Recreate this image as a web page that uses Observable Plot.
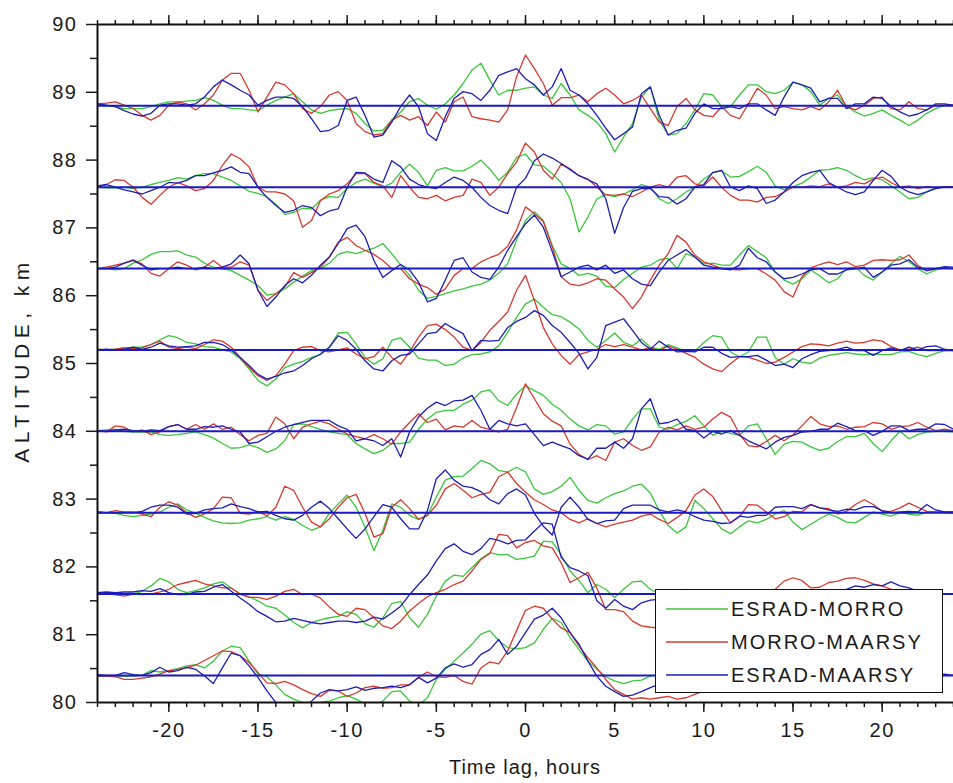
<!DOCTYPE html>
<html><head><meta charset="utf-8">
<script src="https://cdn.jsdelivr.net/npm/d3@7"></script>
<script src="https://cdn.jsdelivr.net/npm/@observablehq/plot@0.6"></script>
<style>
html,body{margin:0;padding:0;background:#fff;}
#wrap{position:relative;width:953px;height:783px;overflow:hidden;font-family:"Liberation Sans",Arial,sans-serif;color:#1a1a1a;background:#fff;}
#wrap svg text{letter-spacing:1.5px;}
.ylab{position:absolute;left:22px;top:360px;transform:translate(-50%,-50%) rotate(-90deg);font-size:21px;letter-spacing:5.5px;white-space:nowrap;}
.xlab{position:absolute;left:525px;top:767px;transform:translate(-50%,-50%);font-size:20px;letter-spacing:1px;white-space:nowrap;}
.legend{position:absolute;left:655px;top:589px;width:286px;height:102px;border:1.5px solid #111;background:#fff;}
.legend .row{position:absolute;left:10px;height:30px;display:flex;align-items:center;font-size:20px;letter-spacing:2px;white-space:nowrap;}
.legend .row svg{margin-right:3px;}
</style></head>
<body>
<div id="wrap"></div>
<script>
// ---- data (offsets in km from each baseline, read every 0.5 h from -24 to 24 h) ----
const lags = d3.range(-24, 24.001, 0.5);
const baselines = [88.8, 87.6, 86.4, 85.2, 84.0, 82.8, 81.6, 80.4];
const seriesNames = ["ESRAD-MORRO", "MORRO-MAARSY", "ESRAD-MAARSY"];
const seriesColors = ["#3cc63c", "#d63a2e", "#1e1eb4"];
const yMajor = [80, 81, 82, 83, 84, 85, 86, 87, 88, 89, 90];
const yMinor = [80.5, 81.5, 82.5, 83.5, 84.5, 85.5, 86.5, 87.5, 88.5, 89.5];
const xMajor = [-20, -15, -10, -5, 0, 5, 10, 15, 20];
const xMinor = d3.range(-24, 25, 1);

const em888 = [0.01,0,-0.01,-0.04,-0.04,-0.04,-0.01,0.03,0.06,0.06,0.07,0.08,0.12,0.08,0.01,-0.04,-0.04,-0.06,-0.07,0.01,0.08,0.13,0.18,0.06,-0.06,-0.11,-0.07,-0.05,-0.04,-0.11,-0.26,-0.37,-0.36,-0.21,-0.09,0.06,0.11,0.01,-0.05,0.03,0.16,0.33,0.53,0.63,0.38,0.16,0.23,0.23,0.26,
0.28,0.16,0.11,0.33,0.16,-0.06,-0.14,-0.24,-0.41,-0.68,-0.46,-0.26,0.13,0.28,-0.21,-0.43,-0.41,-0.26,-0.06,0.18,0.16,-0.01,-0.01,0.16,0.31,0.31,0.21,0.18,0.23,0.35,0.31,0.21,0.01,0.11,0.16,-0.01,-0.09,-0.15,-0.11,-0.06,-0.14,-0.21,-0.29,-0.21,-0.11,-0.04,0.01,0.01];
const mm888 = [0.03,0.04,0.06,0.01,-0.04,-0.14,-0.21,-0.14,0.01,0.06,0.03,-0.06,0.03,0.16,0.38,0.48,0.48,0.23,-0.09,0.13,0.35,0.31,0.18,-0.04,-0.11,-0.01,0.16,0.21,0.08,-0.26,-0.38,-0.43,-0.41,-0.21,-0.14,-0.21,-0.16,-0.29,-0.09,-0.24,0.06,0.13,-0.16,-0.19,-0.21,-0.24,-0.06,0.43,0.75,
0.55,0.33,0.01,0.12,0.12,0.16,0.06,0.18,0.26,0.16,0.03,0.08,0.16,-0.04,-0.24,-0.29,-0.01,0.11,-0.06,-0.14,-0.16,-0.01,-0.14,-0.19,0.03,0.26,0.16,-0.04,-0.01,-0.04,-0.06,-0.01,-0.06,0.06,0.23,-0.01,-0.06,0.01,0.11,0.13,-0.04,-0.06,0.06,-0.04,-0.06,0.01,0.01,0.01];
const ea888 = [0.03,0.01,-0.01,-0.07,-0.12,-0.15,-0.11,0.01,0.03,0.03,0.01,0.03,0.13,0.28,0.38,0.31,0.23,0.16,0.01,0.08,0.13,0.13,0.11,-0.01,-0.19,-0.38,-0.36,-0.29,0.08,0.13,-0.14,-0.46,-0.43,-0.24,-0.01,0.16,-0.01,-0.41,-0.51,-0.16,0.11,0.21,0.18,0.08,0.23,0.45,0.5,0.55,0.4,
0.31,0.16,0.28,0.55,0.23,0.16,0.03,-0.14,-0.33,-0.5,-0.41,-0.31,0.18,0.28,-0.14,-0.43,-0.36,-0.33,-0.11,0.03,-0.04,-0.04,-0.01,-0.04,0.03,0.03,-0.06,-0.14,0.13,0.35,0.31,0.26,0.06,0.11,0.11,-0.04,0.03,0.03,0.13,0.11,-0.01,-0.09,-0.15,-0.12,-0.06,0.03,0.03,0.01];

const em876 = [0,-0.01,-0.01,0,-0.02,0,0.04,0.07,0.1,0.14,0.12,0.17,0.2,0.2,0.15,0.1,0.02,-0.06,-0.09,-0.14,-0.25,-0.4,-0.37,-0.31,-0.32,-0.19,-0.14,-0.15,-0.02,0.07,0.12,0.06,0,0.06,0.22,0.34,0.22,0.02,0.25,0.29,0.24,0.24,0.31,0.4,0.27,0.1,0.22,0.44,0.49,
0.33,0.31,0.2,0.07,-0.17,-0.66,-0.44,-0.17,-0.11,-0.14,-0.1,-0.04,0.04,0,-0.17,-0.24,-0.17,-0.07,0,0.12,0.21,0.24,0.15,0.16,0.23,0.31,0.22,0.02,-0.04,0.01,0.06,0.15,0.25,0.26,0.29,0.25,0.17,0.11,0.14,0.11,0.02,-0.07,-0.17,-0.15,-0.07,-0.01,0.01,0.01];
const mm876 = [0,0.04,0.11,0.1,0,-0.15,-0.25,-0.12,0,0.07,0.02,-0.05,-0.02,0.1,0.32,0.49,0.42,0.3,0,-0.07,-0.07,-0.1,-0.2,-0.59,-0.49,-0.2,-0.1,-0.05,0.05,0.2,0.2,0.07,0.02,-0.15,0.17,0,-0.15,-0.17,-0.12,-0.2,-0.15,-0.12,0.12,0.07,-0.12,0,0.2,0.37,0.65,
0.52,0.25,0.12,0.34,0.27,0.17,0.12,0,-0.11,-0.12,-0.1,-0.14,-0.07,0,0.04,0,0.15,0.17,0.05,0.02,0.15,0,-0.12,-0.19,-0.19,-0.22,-0.15,-0.14,-0.07,0,0,0.02,0.01,0.05,0,0.02,0.07,0.05,0.12,0.15,0.07,0,0.02,-0.02,0.01,-0.01,0.01,0];
const ea876 = [0.02,0.04,0,-0.04,-0.07,-0.1,-0.05,0,0.07,0.06,0.1,0.17,0.17,0.21,0.25,0.3,0.22,0.2,0,-0.15,-0.27,-0.37,-0.34,-0.27,-0.3,-0.42,-0.35,-0.32,0,0.22,0.21,0.12,0.07,0.39,0.3,0.12,0.04,0,-0.02,0.07,0.15,0.1,0,-0.15,-0.27,-0.34,-0.39,0,0.13,
0.39,0.49,0.43,0.35,0.26,0.17,0.11,0.05,-0.17,-0.68,-0.3,-0.06,-0.02,-0.02,-0.14,-0.15,-0.25,-0.17,0,0.04,0.22,0.25,0,-0.05,0.02,-0.02,-0.24,-0.19,-0.07,0.07,0.17,0.22,0.25,0.07,0,-0.07,-0.11,-0.07,0.1,0.25,0.16,0,-0.07,-0.11,-0.07,-0.02,0,0];

const em864 = [0,0,-0.02,0,0.08,0.13,0.21,0.25,0.25,0.26,0.2,0.17,0.08,0.02,0,-0.03,-0.1,-0.17,-0.25,-0.39,-0.37,-0.3,-0.2,-0.11,-0.03,0,0.08,0.21,0.25,0.22,0.26,0.3,0.37,0.22,0.05,-0.1,-0.32,-0.44,-0.41,-0.37,-0.33,-0.3,-0.26,-0.23,-0.17,-0.07,0.07,0.42,0.71,
0.84,0.71,0.34,0.07,0,-0.1,-0.07,-0.11,-0.26,-0.28,-0.16,-0.07,0.02,0.05,0.13,0.15,0,0.22,0.17,0.07,0.08,0.05,0.05,0.2,0.34,0.25,0.16,-0.05,-0.17,-0.23,-0.15,-0.02,-0.11,-0.21,-0.15,0,0.02,-0.1,-0.17,-0.05,0.07,0.18,0.1,0,-0.08,-0.02,0.01,0];
const mm864 = [0,0.02,0.05,0.08,0.13,0.07,-0.07,-0.11,0,0.1,0.05,-0.02,0.02,0.12,0.02,0.02,0.1,0.05,-0.32,-0.47,-0.37,-0.27,-0.06,-0.13,-0.06,0.02,0.17,0.39,0.46,0.34,0.27,0.21,0.12,0,0,-0.15,-0.23,-0.28,-0.38,-0.3,-0.1,0,0,0.1,0.16,0.21,0.33,0.57,0.91,
0.81,0.69,0.32,-0.12,-0.23,-0.25,-0.21,-0.15,-0.17,-0.3,-0.42,-0.59,-0.42,-0.17,0.05,0.22,0.49,0.39,0.2,0.1,0.05,0,-0.01,-0.02,0,0,-0.08,-0.17,-0.34,-0.42,-0.12,0.01,0.06,0.1,0.06,0.1,0.03,0.05,0.12,0.13,0.12,0.13,0.2,0.05,-0.03,0,0.01,0];
const ea864 = [0,0,0.02,0.08,0.12,0.05,-0.02,0,0,0.02,0,0,0.02,0,0.02,0.07,0.2,0.07,-0.32,-0.56,-0.42,-0.25,-0.15,-0.21,-0.1,0.05,0.17,0.37,0.59,0.64,0.47,0.12,-0.13,-0.03,0.06,-0.02,-0.2,-0.49,-0.44,-0.17,0.12,0.16,-0.05,-0.13,-0.16,0.02,0.27,0.47,0.66,
0.79,0.61,0.25,-0.12,-0.05,0.02,0.05,-0.02,0.05,-0.07,-0.02,-0.15,-0.23,-0.25,-0.05,0.12,0.2,0.28,0.17,0.05,0.02,0,-0.02,0.05,0.3,0.16,0.1,-0.05,-0.15,-0.13,-0.08,-0.02,0,-0.08,-0.08,-0.02,0,0.02,-0.13,-0.05,0.05,0.07,0.13,0.02,-0.03,0,0.03,0.02];

const em852 = [0.01,0,0.01,0.03,0.04,0.04,0.08,0.15,0.21,0.18,0.11,0.09,0.05,0.04,0,-0.03,-0.13,-0.28,-0.45,-0.53,-0.43,-0.26,-0.21,-0.17,-0.11,-0.07,0.04,0.25,0.26,0.09,-0.11,-0.21,-0.13,0.14,0.18,0.04,-0.12,-0.15,-0.15,-0.23,-0.21,-0.12,-0.07,-0.06,-0.03,0.06,0.26,0.48,0.68,
0.75,0.63,0.52,0.49,0.41,0.31,0.14,0.04,0.14,0.25,0.11,0.06,0.16,0.04,0.01,0.08,0.03,-0.02,-0.02,0.11,0.21,0.19,-0.03,-0.1,-0.03,0.19,0.19,-0.11,-0.21,-0.13,-0.18,-0.2,-0.12,-0.08,-0.06,-0.04,-0.06,-0.07,-0.06,-0.07,-0.07,-0.03,-0.02,-0.07,-0.1,-0.05,-0.01,-0.01];
const mm852 = [0.01,0,0.01,0.03,0.02,0.03,0.08,0.13,0.04,0.02,0.04,0.02,0.08,0.15,0.13,0.04,-0.11,-0.26,-0.38,-0.45,-0.38,-0.21,-0.01,0.04,0.05,-0.01,-0.03,0,0.03,-0.06,-0.13,-0.1,0.04,-0.11,-0.21,-0.03,0.19,0.36,0.38,0.3,0.19,0.04,-0.01,0.11,0.29,0.42,0.56,0.88,1.1,
0.73,0.33,0.09,-0.08,-0.21,-0.07,-0.03,0.01,0.08,0.05,0.08,0.04,0,0.03,-0.01,0.06,0.01,-0.05,-0.11,-0.21,-0.28,-0.32,-0.2,-0.1,-0.11,-0.15,-0.2,-0.18,-0.11,-0.03,0.05,0.09,0.08,0.06,0.1,0.13,0.1,0.11,0.15,0.13,0.05,0,0.01,0.04,-0.01,-0.01,-0.01,-0.01];
const ea852 = [0,0.01,0,0.01,0.04,0.01,0.04,0.1,0.06,0.04,0.05,0.06,0.11,0.11,0.08,0,-0.11,-0.23,-0.36,-0.43,-0.39,-0.34,-0.31,-0.23,-0.13,-0.06,0.04,0.21,0.14,0.01,-0.16,-0.28,-0.31,-0.16,-0.08,-0.06,0.09,0.24,0.26,0.39,0.31,0.24,-0.01,0.14,0.13,0.14,0.33,0.42,0.48,
0.58,0.51,0.36,0.26,0.11,-0.05,-0.28,-0.11,0.36,0.41,0.46,0.29,0.11,0.01,0.13,0.04,-0.03,-0.02,-0.03,0.04,0.04,-0.05,-0.11,-0.1,-0.1,-0.08,-0.15,-0.23,-0.21,-0.26,-0.13,-0.07,-0.02,-0.01,0.01,0.04,-0.01,-0.01,-0.08,-0.01,0.03,-0.01,0.04,0,0.05,0.06,0.01,-0.01];

const em840 = [0.01,0.02,0.03,0,-0.01,-0.01,-0.01,-0.05,-0.06,-0.05,-0.03,-0.01,-0.05,-0.1,-0.18,-0.25,-0.24,-0.2,-0.24,-0.31,-0.26,-0.14,0.1,0.11,0.07,0.03,-0.01,-0.03,-0.05,-0.18,-0.26,-0.33,-0.28,-0.18,-0.18,-0.16,0.03,0.18,0.28,0.31,0.31,0.4,0.46,0.58,0.61,0.45,0.38,0.55,0.67,
0.6,0.53,0.4,0.31,0.18,0.08,0.02,0.1,0.08,-0.04,-0.01,0.18,0.33,0.33,0.06,0.03,0.1,0.15,0.23,0.08,-0.06,0,-0.03,-0.06,0.08,0.11,-0.11,-0.34,-0.19,-0.15,-0.16,-0.23,-0.28,-0.25,-0.15,-0.08,-0.08,-0.03,-0.18,-0.3,-0.14,0,-0.11,-0.05,-0.01,0,0,-0.01];
const mm840 = [0.01,-0.01,0.08,0.06,-0.01,0.02,-0.05,-0.01,0.07,0.1,0.03,0.1,0.03,0.11,0.03,0.06,-0.05,-0.14,-0.06,-0.03,0.21,0.11,-0.11,0.06,0.11,0.15,0.11,0.03,-0.04,-0.08,-0.11,-0.05,-0.11,-0.19,-0.01,0.13,0.26,0.13,0.18,0.02,0.08,0.06,0.16,0.06,0.03,-0.01,0.03,0.35,0.7,
0.48,0.26,0.15,0.08,-0.19,-0.34,-0.42,-0.36,-0.43,-0.16,-0.11,-0.21,-0.28,-0.23,-0.01,0.06,0.02,0.08,0.03,0.06,0.18,0.28,0.21,-0.04,-0.21,-0.23,-0.15,-0.06,-0.14,-0.05,0.08,0.22,0.11,0.07,0.08,0.03,0.06,0.07,0.13,0.11,0.03,0.07,0.08,0.13,0.06,0.01,0.03,0.01];
const ea840 = [0.01,0,0.02,0.03,0.01,0,0.02,0.01,0.07,0.1,0.03,0.03,0.07,0.06,0.08,0.03,-0.01,-0.18,-0.16,-0.08,0,0.06,0.1,0.13,0.16,0.16,0.16,0.08,0.03,-0.14,-0.11,-0.14,-0.21,-0.11,-0.38,-0.01,0.21,0.34,0.43,0.38,0.45,0.46,0.53,0.31,0.03,0.16,0.11,0.08,0.11,
-0.05,-0.21,-0.16,-0.21,-0.26,-0.36,-0.41,-0.25,-0.25,-0.16,-0.25,-0.11,0.33,0.48,0.11,0.13,0.18,0.03,0.01,-0.1,0,-0.04,0.01,-0.06,-0.14,-0.2,-0.26,-0.16,-0.09,-0.06,-0.01,0,0.03,0.03,0.12,0.07,0.01,0.01,-0.06,0,0.08,0.08,0.01,0.03,0.03,0.11,0.1,0.03];

const em828 = [0.01,0,-0.01,-0.04,-0.06,-0.04,-0.02,0.01,0.08,0.13,0.04,-0.01,-0.07,-0.12,-0.15,-0.16,-0.15,-0.11,-0.09,-0.06,-0.11,-0.06,-0.1,-0.19,-0.26,-0.21,-0.01,0.13,0.26,0.08,-0.21,-0.56,-0.26,0.13,0.08,-0.04,-0.1,-0.04,0.23,0.48,0.53,0.54,0.65,0.77,0.72,0.62,0.6,0.67,0.6,
0.35,0.27,0.31,0.39,0.52,0.33,0.18,0.14,0.22,0.28,0.32,0.39,0.42,0.29,0.03,-0.19,-0.3,-0.21,0.18,0.06,-0.09,-0.24,-0.31,-0.21,-0.12,-0.15,-0.1,-0.02,0.03,-0.14,-0.25,-0.17,-0.09,-0.02,-0.07,-0.14,-0.15,-0.07,0.01,-0.02,-0.05,0,-0.02,-0.04,0.01,0.01,0,-0.01];
const mm828 = [-0.01,0,0.03,0.01,0.01,-0.02,-0.06,0.08,0.16,0.11,0,-0.07,-0.02,0.06,0.23,0.22,-0.01,-0.02,0.02,-0.05,0.08,0.39,0.33,0.08,-0.14,-0.21,-0.09,0.08,0.22,0.27,-0.01,-0.36,-0.31,0.08,0.19,0.06,-0.1,-0.04,0.11,0.35,0.43,0.33,0.22,0.27,0.3,0.53,0.6,0.43,0.3,
0.19,0.12,0.04,0,-0.1,-0.15,-0.09,-0.16,-0.21,-0.17,-0.14,-0.11,-0.05,-0.02,-0.1,-0.16,-0.07,0.03,0.26,0.35,0.24,0.03,-0.15,-0.06,0.12,0.11,0.01,-0.09,-0.06,0.02,0.01,0.12,0.07,0.06,-0.02,0.02,0.12,0.19,0.12,0.02,0.02,0.07,0.14,0.08,0.02,0.01,0.01,0.01];
const ea828 = [0.01,0,0,0,0,0.02,0.08,0.11,0.11,0.08,-0.02,-0.01,0.04,0.06,0.07,0.13,0.09,0.06,0.01,0.02,-0.04,-0.09,-0.11,-0.04,0.08,0.17,0.06,-0.09,-0.24,-0.38,-0.24,-0.06,0.12,0.08,-0.09,-0.24,-0.24,0.03,0.5,0.63,0.48,0.39,0.37,0.31,0.19,0.13,0.28,0.35,0.26,
-0.01,-0.2,-0.33,0.08,0.23,0.08,-0.1,-0.16,-0.12,-0.11,0.06,0.11,0.11,0.11,0.04,0.01,0.04,0.01,-0.06,-0.11,-0.13,-0.16,-0.15,-0.05,-0.07,-0.04,-0.04,0.08,0.09,0.09,0.06,0.12,0.07,0.04,0.02,0.05,0.04,0.09,0.09,0.03,0,0.01,0.02,0.01,0.12,0.04,0.01,0.01];

const em816 = [0.02,0.01,-0.01,-0.01,0,0.04,0.12,0.23,0.18,0.07,0.02,0.05,0.09,0.15,0.18,0.09,0,-0.04,-0.1,-0.18,-0.21,-0.31,-0.42,-0.5,-0.42,-0.38,-0.35,-0.33,-0.26,-0.3,-0.44,-0.49,-0.35,-0.14,-0.11,-0.35,-0.49,-0.3,-0.03,0.19,0.28,0.26,0.39,0.52,0.61,0.58,0.58,0.51,0.53,
0.56,0.78,0.77,0.58,0.34,0.2,0.02,0.14,0.07,-0.05,0.07,0.18,0.19,0.07,0,-0.03,0.02,0.07,0.04,0,-0.05,-0.03,0.02,0.04,0,-0.04,-0.08,-0.03,0.02,0.04,0,-0.04,-0.03,0.02,0.03,0,-0.03,-0.01,0.02,0.03,0,-0.01,0,0.02,0,0,0,0];
const mm816 = [0.02,0,-0.01,-0.03,0,-0.01,0,0.03,0.07,0.14,0.17,0.2,0.15,0.12,0.09,0.09,0,-0.05,-0.05,-0.08,-0.03,0.04,0.07,-0.01,0,-0.06,-0.19,-0.3,-0.33,-0.21,-0.23,-0.35,-0.47,-0.51,-0.4,-0.25,-0.14,-0.04,0.02,0.07,0.14,0.19,0.34,0.51,0.6,0.88,0.86,0.68,0.76,
0.79,0.71,0.68,0.46,0.17,0.24,0.32,0.09,-0.23,-0.23,-0.26,-0.4,-0.47,-0.49,-0.5,-0.45,-0.4,-0.35,-0.3,-0.28,-0.23,-0.18,-0.15,-0.1,-0.08,-0.03,0.02,0.07,0.19,0.24,0.2,0.09,0.1,0.17,0.19,0.23,0.24,0.2,0.15,0.12,0.07,0.04,0.02,0.02,0,0,0,0];
const ea816 = [0.02,0.03,0.02,0.03,0.03,0.05,0.04,0.08,0.02,-0.01,-0.01,0.03,0.04,0.1,0.14,0.04,-0.06,-0.15,-0.26,-0.33,-0.41,-0.4,-0.36,-0.39,-0.42,-0.44,-0.42,-0.4,-0.4,-0.42,-0.4,-0.34,-0.37,-0.28,-0.18,-0.01,0.14,0.28,0.49,0.67,0.74,0.63,0.58,0.67,0.82,0.79,0.74,0.79,0.8,
0.93,1.05,1.03,0.54,0.39,0.34,0.27,-0.1,-0.21,-0.08,-0.18,-0.23,-0.13,-0.09,-0.08,-0.05,-0.03,0,0.02,0.04,0.03,0,-0.01,0,0.02,0.03,0,-0.01,0,0.03,0.04,0.03,0.02,0.02,0.04,0.07,0.12,0.1,0.14,0.12,0.18,0.12,0.09,0.04,0.02,0,0,0];

const em804 = [-0.01,-0.01,-0.01,-0.01,-0.01,0,0.07,0.05,0.07,0.1,0.14,0.16,0.11,0.21,0.36,0.43,0.41,0.21,0.02,-0.02,-0.14,-0.28,-0.35,-0.4,-0.42,-0.4,-0.38,-0.33,-0.3,-0.35,-0.42,-0.44,-0.38,-0.24,-0.23,-0.38,-0.44,-0.33,-0.06,0.09,0.21,0.33,0.46,0.61,0.66,0.51,0.41,0.39,0.41,
0.48,0.68,0.84,0.78,0.56,0.38,0.21,0.09,-0.02,-0.08,-0.12,-0.08,-0.07,-0.01,0.01,0,-0.03,-0.06,-0.02,0.01,0.04,0.01,-0.02,-0.03,-0.01,0.02,0.04,0,-0.03,-0.02,0.01,0.04,0.02,-0.01,-0.02,0,0.02,0.01,-0.01,0,0.02,0.01,-0.01,0,0.01,0,0,0];
const mm804 = [-0.01,-0.01,-0.02,-0.06,-0.06,-0.04,-0.02,0.02,0.07,0.09,0.11,0.15,0.22,0.29,0.36,0.35,0.29,0.19,0.04,-0.11,-0.12,-0.09,-0.14,-0.21,-0.27,-0.31,-0.22,-0.23,-0.31,-0.26,-0.18,-0.16,-0.19,-0.18,-0.14,-0.14,-0.03,0.05,-0.02,-0.03,0,-0.09,-0.13,0.11,0.2,0.17,0.36,0.66,0.96,
1.02,0.99,0.83,0.7,0.63,0.43,0.26,0.11,-0.06,-0.21,-0.28,-0.35,-0.33,-0.35,-0.33,-0.31,-0.35,-0.33,-0.28,-0.23,-0.18,-0.13,-0.08,-0.03,-0.01,0.01,0.04,0.06,0.04,0.01,-0.01,0.01,0.02,0,-0.01,0.01,0.04,0.02,0,-0.01,0,0.02,0.04,0.01,0,-0.01,0,0];
const ea804 = [0.01,0,0,0.04,0.01,0,0.04,0.12,0.05,0.07,0.12,0.09,-0.01,-0.12,0.11,0.33,0.29,0.14,-0.03,-0.23,-0.4,-0.53,-0.58,-0.48,-0.38,-0.26,-0.21,-0.23,-0.21,-0.17,-0.22,-0.19,-0.18,-0.16,-0.18,-0.14,-0.03,-0.11,-0.04,0.11,0.17,0.12,0.16,0.31,0.38,0.53,0.31,0.43,0.63,
0.83,0.89,0.99,0.85,0.63,0.46,0.21,-0.01,-0.16,-0.24,-0.31,-0.29,-0.24,-0.18,-0.13,-0.08,-0.06,-0.03,0,0.04,0.02,-0.01,-0.02,0,0.04,0.02,-0.01,-0.03,-0.01,0.02,0.04,0.01,-0.01,0,0.02,0.04,0.01,-0.01,0,0.02,0.01,0,0.02,0.01,0,0,0.02,0];

// ---- assemble ----
const bySeries = [
  [em888, em876, em864, em852, em840, em828, em816, em804],
  [mm888, mm876, mm864, mm852, mm840, mm828, mm816, mm804],
  [ea888, ea876, ea864, ea852, ea840, ea828, ea816, ea804]
];
const bad = [];
bySeries.forEach((arrs, s) => arrs.forEach((a, i) => { if (a.length !== lags.length) bad.push(seriesNames[s] + "@" + baselines[i] + ":" + a.length); }));
if (bad.length) throw new Error("length mismatch " + bad.join(", "));

const rows = [];
bySeries.forEach((arrs, s) => arrs.forEach((a, i) => a.forEach((v, j) => rows.push({series: seriesNames[s], level: baselines[i], lag: lags[j], alt: baselines[i] + v}))));

const lineMarks = seriesNames.map((name, s) =>
  Plot.line(rows.filter(r => r.series === name), {x: "lag", y: "alt", z: "level", stroke: seriesColors[s], strokeWidth: 1.3, clip: true}));

const blank = () => "";
const chart = Plot.plot({
  width: 953, height: 783,
  marginLeft: 97, marginRight: 0, marginTop: 24, marginBottom: 81,
  x: {domain: [-24, 24]},
  y: {domain: [80, 90]},
  style: {fontFamily: "'Liberation Sans', Arial, sans-serif", fontSize: "20px", color: "#1a1a1a", background: "white", overflow: "visible"},
  marks: [
    ...lineMarks,
    Plot.ruleY(baselines, {stroke: "#1a1ac4", strokeWidth: 2}),
    Plot.axisY({ticks: yMajor, tickSize: 11, tickPadding: 9, tickFormat: d => String(d), label: null, strokeWidth: 1.5, fontSize: 20}),
    Plot.axisY({ticks: yMinor, tickSize: 7, tickFormat: blank, label: null, strokeWidth: 1.5}),
    Plot.axisX({anchor: "bottom", ticks: xMajor, tickSize: 10, tickPadding: 10, tickFormat: d => String(d), label: null, strokeWidth: 1.5, fontSize: 20}),
    Plot.axisX({anchor: "bottom", ticks: xMinor, tickSize: 5, tickFormat: blank, label: null, strokeWidth: 1.5}),
    Plot.axisX({anchor: "top", ticks: xMajor, tickSize: 10, tickFormat: blank, label: null, strokeWidth: 1.5}),
    Plot.axisX({anchor: "top", ticks: xMinor, tickSize: 5, tickFormat: blank, label: null, strokeWidth: 1.5}),
    Plot.ruleX([-24], {stroke: "#111", strokeWidth: 2}),
    Plot.ruleY([80, 90], {stroke: "#111", strokeWidth: 2})
  ]
});

const wrap = document.getElementById("wrap");
wrap.appendChild(chart);

const ylab = document.createElement("div");
ylab.className = "ylab"; ylab.textContent = "ALTITUDE, km";
wrap.appendChild(ylab);
const xlab = document.createElement("div");
xlab.className = "xlab"; xlab.textContent = "Time lag, hours";
wrap.appendChild(xlab);

const legend = document.createElement("div");
legend.className = "legend";
seriesNames.forEach((name, s) => {
  const row = document.createElement("div");
  row.className = "row";
  row.style.top = (4 + 33 * s) + "px";
  row.innerHTML = `<svg width="62" height="4"><line x1="0" y1="2" x2="62" y2="2" stroke="${seriesColors[s]}" stroke-width="1.5"/></svg><span>${name}</span>`;
  legend.appendChild(row);
});
wrap.appendChild(legend);
</script>
</body></html>
